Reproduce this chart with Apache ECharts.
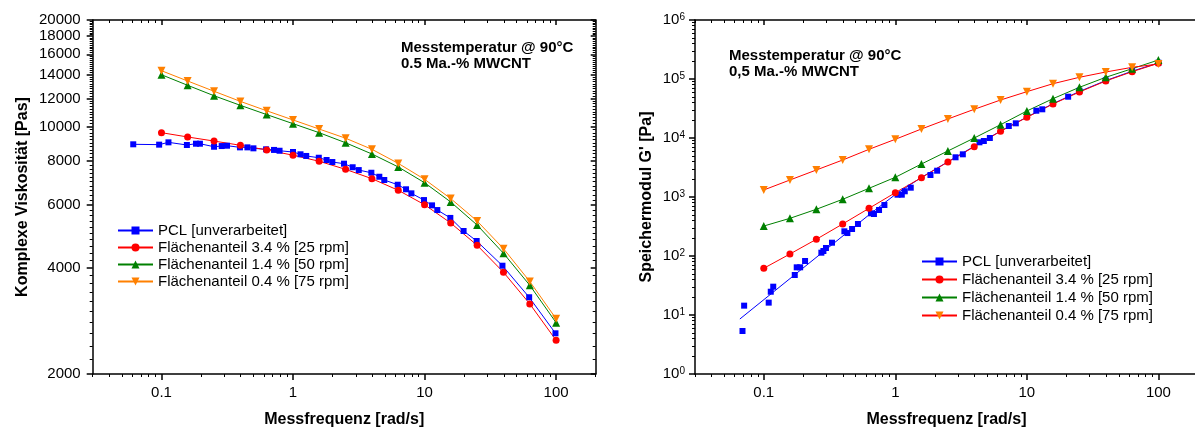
<!DOCTYPE html>
<html>
<head>
<meta charset="utf-8">
<script src="https://cdn.jsdelivr.net/npm/echarts@6.0.0/dist/echarts.min.js"></script>
<style>
html,body{margin:0;padding:0;background:#fff;}
#c{width:1195px;height:430px;}
</style>
</head>
<body>
<div id="c"></div>
<script>
// ---------------- DATA ----------------
const seriesNames = ['PCL [unverarbeitet]', 'Flächenanteil 3.4 % [25 rpm]', 'Flächenanteil 1.4 % [50 rpm]', 'Flächenanteil 0.4 % [75 rpm]'];
const freqStd = [0.1, 0.158, 0.251, 0.398, 0.631, 1, 1.58, 2.51, 3.98, 6.31, 10, 15.8, 25.1, 39.8, 63.1, 100];

// Left chart: complex viscosity [Pas]
const pclViscF = [0.061, 0.096, 0.113, 0.156, 0.183, 0.196, 0.251, 0.287, 0.315, 0.395, 0.45, 0.5, 0.624, 0.717, 0.79, 1.0, 1.14, 1.26, 1.57, 1.8, 1.99, 2.44, 2.84, 3.16, 3.94, 4.53, 4.94, 6.25, 7.23, 7.94, 9.9, 11.4, 12.5, 15.7, 19.8, 24.9, 39.1, 62.4, 98.9];
const pclVisc = [8910, 8890, 9025, 8870, 8945, 8945, 8770, 8810, 8830, 8735, 8735, 8680, 8625, 8590, 8545, 8475, 8350, 8260, 8165, 8045, 7940, 7855, 7675, 7535, 7405, 7215, 7064, 6850, 6650, 6477, 6200, 5990, 5810, 5520, 5070, 4750, 4045, 3295, 2606];
const visc34 = [9610, 9345, 9100, 8853, 8590, 8300, 7980, 7570, 7125, 6607, 6015, 5340, 4620, 3877, 3155, 2490];
const visc14 = [14010, 13080, 12220, 11480, 10810, 10190, 9610, 9000, 8365, 7690, 6940, 6124, 5270, 4386, 3561, 2793];
const visc04 = [14380, 13450, 12580, 11780, 11080, 10440, 9840, 9270, 8625, 7870, 7095, 6260, 5410, 4520, 3650, 2866];

// Right chart: storage modulus G' [Pa]
const pclGF = [0.0689, 0.0709, 0.109, 0.113, 0.118, 0.172, 0.178, 0.189, 0.206, 0.274, 0.284, 0.297, 0.33, 0.41, 0.432, 0.469, 0.52, 0.653, 0.688, 0.752, 0.826, 1.04, 1.12, 1.18, 1.31, 1.85, 2.08, 2.87, 3.26, 4.36, 4.71, 5.23, 7.29, 8.24, 11.8, 13.1, 15.8, 20.6, 25.1, 39.8, 63.1, 100];
const pclG = [5.36, 14.4, 16.2, 24.8, 30.2, 47.6, 64.3, 64.3, 82.2, 113.8, 121.6, 136.7, 168, 262, 245, 287, 349, 529, 515, 602, 731, 1094, 1094, 1250, 1438, 2360, 2790, 4710, 5290, 8450, 8890, 10000, 15960, 17740, 29000, 30650, 38700, 50100, 63300, 95000, 136700, 188800];
const pclLineF = [0.0658, 0.653, 1, 1.58, 2.51, 3.98, 6.31, 10, 15.8, 25.1, 39.8, 63.1, 100];
const pclLineG = [8.55, 530, 1100, 2150, 3950, 7250, 13100, 22600, 38200, 61500, 94000, 135500, 187000];
const g34 = [61.9, 108, 192, 349, 643, 1183, 2125, 3920, 7120, 13000, 22400, 37700, 60200, 92500, 133000, 184600];
const g14 = [322, 435, 619, 914, 1404, 2157, 3625, 6025, 10000, 16800, 28700, 46400, 72300, 106900, 149500, 209800];
const g04 = [1315, 1941, 2870, 4236, 6430, 9510, 14210, 21000, 30650, 44060, 60950, 83200, 106900, 131400, 157700, 179600];

// Axes / ticks
const xRange = [0.03, 200];
const xTickValues = [0.1, 1, 10, 100];
const xTickLabels = ['0.1', '1', '10', '100'];
const viscRange = [2000, 20000];
const viscTicks = [2000, 4000, 6000, 8000, 10000, 12000, 14000, 16000, 18000, 20000];
const viscMinorStep = 200;
const gRange = [1, 1e6];
const gTicks = [1, 10, 100, 1000, 10000, 100000, 1000000];
const gTickExp = ['0', '1', '2', '3', '4', '5', '6'];

const xLabel = 'Messfrequenz [rad/s]';
const yLabelLeft = 'Komplexe Viskosität [Pas]';
const yLabelRight = "Speichermodul G' [Pa]";
const noteLeft = ['Messtemperatur @ 90°C', '0.5 Ma.-% MWCNT'];
const noteRight = ['Messtemperatur @ 90°C', '0,5 Ma.-% MWCNT'];

// ---------------- BUILD ----------------
const FONT = '"Liberation Sans", Arial, Helvetica, sans-serif';
const BLACK = '#000';
const COL = {blue: '#0000ff', red: '#ff0000', green: '#008000', orange: '#ff8000'};
const TRI_DOWN = 'path://M0,0 L10,0 L5,9 Z';

function logMinor(lo, hi) {
  const out = [];
  for (let e = Math.floor(Math.log10(lo)); e <= Math.ceil(Math.log10(hi)); e++) {
    for (let k = 2; k <= 9; k++) {
      const v = k * Math.pow(10, e);
      if (v >= lo * 0.999 && v <= hi * 1.001) out.push(v);
    }
  }
  return out;
}
const xMinor = logMinor(xRange[0], xRange[1]);
const gMinor = logMinor(gRange[0], gRange[1]);
const viscMinor = [];
for (let v = viscRange[0]; v <= viscRange[1]; v += viscMinorStep) {
  if (viscTicks.indexOf(v) < 0) viscMinor.push(v);
}

const lineSt = {color: BLACK, width: 1.5};
function xAxesFor(gi) {
  const base = {type: 'log', logBase: 10, min: xRange[0], max: xRange[1], gridIndex: gi,
    splitLine: {show: false}, axisLine: {show: true, onZero: false, lineStyle: lineSt}};
  return [
    Object.assign({}, base, {position: 'bottom', name: xLabel, nameLocation: 'middle', nameGap: 38,
      nameTextStyle: {fontFamily: FONT, fontWeight: 'bold', fontSize: 16, color: BLACK},
      axisTick: {show: true, inside: false, length: 6, lineStyle: lineSt, customValues: xTickValues},
      axisLabel: {show: true, customValues: xTickValues, margin: 11, fontFamily: FONT, fontSize: 15, color: BLACK,
        formatter: v => { let best = 0; xTickValues.forEach((t, i) => { if (Math.abs(Math.log10(t) - Math.log10(v)) < Math.abs(Math.log10(xTickValues[best]) - Math.log10(v))) best = i; }); return xTickLabels[best]; }}}),
    Object.assign({}, base, {position: 'bottom', axisLine: {show: false, onZero: false},
      axisTick: {show: true, inside: false, length: 3, lineStyle: {color: BLACK, width: 1}, customValues: xMinor},
      axisLabel: {show: false}}),
    Object.assign({}, base, {position: 'top',
      axisTick: {show: true, inside: true, length: 5, lineStyle: lineSt, customValues: xTickValues},
      axisLabel: {show: false}}),
    Object.assign({}, base, {position: 'top', axisLine: {show: false, onZero: false},
      axisTick: {show: true, inside: true, length: 3, lineStyle: {color: BLACK, width: 1}, customValues: xMinor},
      axisLabel: {show: false}})
  ];
}

function yAxesFor(gi, range, major, minor, labelCfg, name, nameGap, showRight) {
  const base = {type: 'log', logBase: 10, min: range[0], max: range[1], gridIndex: gi,
    splitLine: {show: false}, axisLine: {show: true, onZero: false, lineStyle: lineSt}};
  return [
    Object.assign({}, base, {position: 'left', name: name, nameLocation: 'middle', nameGap: nameGap,
      nameTextStyle: {fontFamily: FONT, fontWeight: 'bold', fontSize: 16, color: BLACK},
      axisTick: {show: true, inside: false, length: 6, lineStyle: lineSt, customValues: major},
      axisLabel: Object.assign({show: true, customValues: major, margin: 12, fontFamily: FONT, fontSize: 15, color: BLACK}, labelCfg)}),
    Object.assign({}, base, {position: 'left', axisLine: {show: false, onZero: false},
      axisTick: {show: true, inside: false, length: 3, lineStyle: {color: BLACK, width: 1}, customValues: minor},
      axisLabel: {show: false}}),
    Object.assign({}, base, {position: 'right', show: showRight,
      axisTick: {show: true, inside: true, length: 5, lineStyle: lineSt, customValues: major},
      axisLabel: {show: false}}),
    Object.assign({}, base, {position: 'right', show: showRight, axisLine: {show: false, onZero: false},
      axisTick: {show: true, inside: true, length: 3, lineStyle: {color: BLACK, width: 1}, customValues: minor},
      axisLabel: {show: false}})
  ];
}

const xAxes = xAxesFor(0).concat(xAxesFor(1));
const yAxes = yAxesFor(0, viscRange, viscTicks, viscMinor, {formatter: v => String(Math.round(v))}, yLabelLeft, 62, true)
  .concat(yAxesFor(1, gRange, gTicks, gMinor, {
    margin: 10,
    formatter: v => { const i = gTicks.findIndex(t => Math.abs(Math.log10(t) - Math.log10(v)) < 0.01); return '{b|10}{s|' + gTickExp[i] + '}'; },
    rich: {b: {fontFamily: FONT, fontSize: 15, color: BLACK, lineHeight: 15}, s: {fontFamily: FONT, fontSize: 10, color: BLACK, verticalAlign: 'top', lineHeight: 10, padding: [0, 0, 6, 0]}}
  }, yLabelRight, 40, false));

function pairs(xs, ys) { return xs.map((x, i) => [x, ys[i]]); }

function ser(name, xi, yi, data, color, symbol, size, lineColor, extra) {
  return Object.assign({
    name: name, type: 'line', xAxisIndex: xi, yAxisIndex: yi, data: data,
    symbol: symbol, symbolSize: size, showSymbol: true,
    itemStyle: {color: color}, lineStyle: {color: lineColor || color, width: 1},
    emphasis: {disabled: true}, animation: false, clip: true
  }, extra || {});
}

const series = [
  // left chart
  ser(seriesNames[0], 0, 0, pairs(pclViscF, pclVisc), COL.blue, 'rect', 6),
  ser(seriesNames[1], 0, 0, pairs(freqStd, visc34), COL.red, 'circle', 7),
  ser(seriesNames[2], 0, 0, pairs(freqStd, visc14), COL.green, 'triangle', 8),
  ser(seriesNames[3], 0, 0, pairs(freqStd, visc04), COL.orange, TRI_DOWN, 8),
  // right chart
  ser('PCL fit', 4, 4, pairs(pclLineF, pclLineG), COL.blue, 'none', 0, COL.blue, {showSymbol: false}),
  ser(seriesNames[0], 4, 4, pairs(pclGF, pclG), COL.blue, 'rect', 6, COL.blue, {lineStyle: {width: 0, opacity: 0}}),
  ser(seriesNames[1], 4, 4, pairs(freqStd, g34), COL.red, 'circle', 7),
  ser(seriesNames[2], 4, 4, pairs(freqStd, g14), COL.green, 'triangle', 8),
  ser(seriesNames[3], 4, 4, pairs(freqStd, g04), COL.orange, TRI_DOWN, 8, COL.red)
];

const legendText = {fontFamily: FONT, fontSize: 15, color: BLACK};
const legends = [
  {left: 117, top: 223, orient: 'vertical', padding: 0, itemWidth: 35, itemHeight: 10, itemGap: 2,
    selectedMode: false, textStyle: legendText, data: seriesNames.slice()},
  {left: 921, top: 254, orient: 'vertical', padding: 0, itemWidth: 35, itemHeight: 10, itemGap: 3,
    selectedMode: false, textStyle: legendText,
    data: [seriesNames[0], seriesNames[1], seriesNames[2], {name: seriesNames[3], lineStyle: {color: COL.red}}]}
];

const noteStyle = {fontFamily: FONT, fontWeight: 'bold', fontSize: 15, lineHeight: 16, fill: BLACK};
const graphic = [
  {type: 'text', left: 401, top: 40, style: Object.assign({text: noteLeft.join('\n')}, noteStyle)},
  {type: 'text', left: 729, top: 48, style: Object.assign({text: noteRight.join('\n')}, noteStyle)}
];

const chart = echarts.init(document.getElementById('c'), null, {renderer: 'canvas'});
chart.setOption({
  animation: false,
  backgroundColor: '#fff',
  grid: [
    {left: 92.7, top: 20, width: 503, height: 354, containLabel: false, outerBoundsMode: 'none'},
    {left: 695, top: 20, width: 503, height: 354, containLabel: false, outerBoundsMode: 'none'}
  ],
  xAxis: xAxes,
  yAxis: yAxes,
  legend: legends,
  graphic: graphic,
  series: series
});
</script>
</body>
</html>
